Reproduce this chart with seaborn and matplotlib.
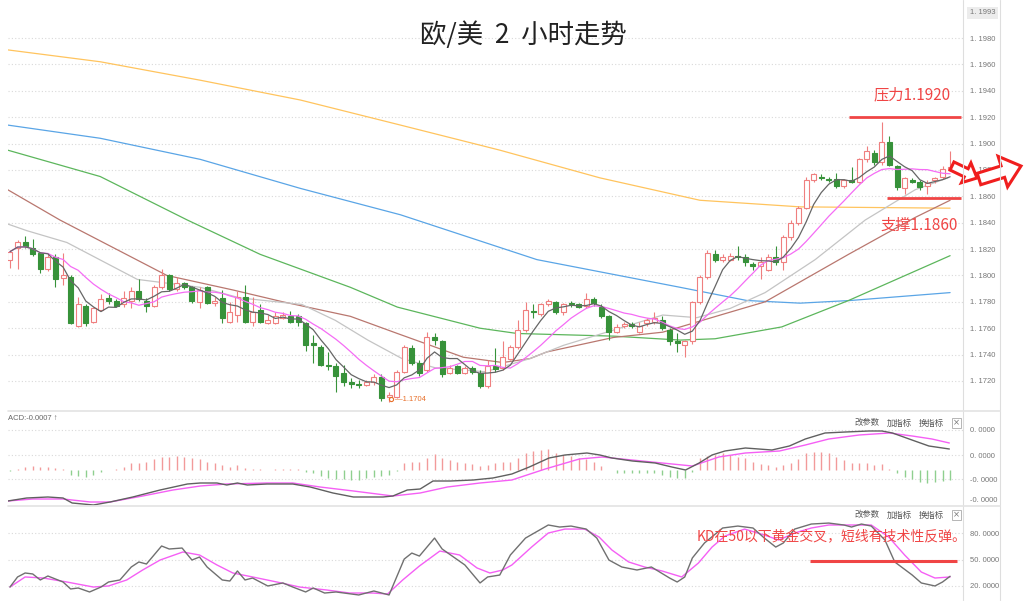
import numpy as np
import pandas as pd
import seaborn as sns
import matplotlib.pyplot as plt
from matplotlib.patches import FancyArrow
from matplotlib.lines import Line2D
from matplotlib.transforms import IdentityTransform

# EUR/USD 2h candles
opens = [1.1812, 1.1821, 1.1825, 1.1821, 1.1817, 1.1805, 1.1814, 1.1798, 1.1799, 1.1762,
         1.1777, 1.1765, 1.1774, 1.1783, 1.1781, 1.1778, 1.1781, 1.1788, 1.1781, 1.1777,
         1.1791, 1.1800, 1.1790, 1.1794, 1.1791, 1.1780, 1.1791, 1.1779, 1.1783, 1.1765,
         1.1770, 1.1784, 1.1765, 1.1774, 1.1764, 1.1764, 1.1768, 1.1769, 1.1769, 1.1764,
         1.1749, 1.1746, 1.1732, 1.1731, 1.1726, 1.1719, 1.1718, 1.1717, 1.1719, 1.1723,
         1.1708, 1.1708, 1.1727, 1.1745, 1.1734, 1.1728, 1.1753, 1.1750, 1.1726, 1.1731,
         1.1726, 1.1730, 1.1726, 1.1716, 1.1731, 1.1730, 1.1737, 1.1746, 1.1759, 1.1773,
         1.1771, 1.1778, 1.1780, 1.1772, 1.1779, 1.1778, 1.1777, 1.1782, 1.1776, 1.1769,
         1.1757, 1.1762, 1.1763, 1.1757, 1.1764, 1.1765, 1.1766, 1.1759, 1.1750, 1.1747,
         1.1750, 1.1780, 1.1799, 1.1816, 1.1812, 1.1812, 1.1815, 1.1814, 1.1809, 1.1807,
         1.1804, 1.1814, 1.1810, 1.1829, 1.1840, 1.1851, 1.1872, 1.1875, 1.1873, 1.1873,
         1.1868, 1.1872, 1.1871, 1.1888, 1.1893, 1.1886, 1.1901, 1.1883, 1.1866, 1.1872,
         1.1871, 1.1868, 1.1872, 1.1875, 1.1881]
closes = [1.1818, 1.1825, 1.1822, 1.1816, 1.1805, 1.1814, 1.1797, 1.1800, 1.1764, 1.1778,
          1.1764, 1.1775, 1.1782, 1.1781, 1.1777, 1.1783, 1.1788, 1.1782, 1.1777, 1.1791,
          1.1800, 1.1790, 1.1794, 1.1791, 1.1781, 1.1789, 1.1779, 1.1781, 1.1768, 1.1772,
          1.1784, 1.1765, 1.1772, 1.1765, 1.1766, 1.1769, 1.1770, 1.1765, 1.1765, 1.1747,
          1.1747, 1.1732, 1.1731, 1.1724, 1.1719, 1.1718, 1.1717, 1.1719, 1.1723, 1.1707,
          1.1709, 1.1727, 1.1746, 1.1734, 1.1726, 1.1753, 1.1751, 1.1725, 1.1730, 1.1726,
          1.1730, 1.1727, 1.1716, 1.1731, 1.1729, 1.1738, 1.1746, 1.1759, 1.1774, 1.1772,
          1.1778, 1.1781, 1.1772, 1.1778, 1.1778, 1.1776, 1.1782, 1.1779, 1.1769, 1.1757,
          1.1761, 1.1763, 1.1762, 1.1762, 1.1766, 1.1768, 1.1760, 1.1750, 1.1749, 1.1750,
          1.1780, 1.1799, 1.1817, 1.1812, 1.1814, 1.1815, 1.1814, 1.1810, 1.1807, 1.1810,
          1.1814, 1.1810, 1.1829, 1.1840, 1.1851, 1.1872, 1.1877, 1.1874, 1.1872, 1.1868,
          1.1872, 1.1871, 1.1888, 1.1894, 1.1886, 1.1901, 1.1884, 1.1867, 1.1874, 1.1871,
          1.1867, 1.1870, 1.1874, 1.1881, 1.1882]
highs = [1.1819, 1.1827, 1.1830, 1.1828, 1.1818, 1.1816, 1.1816, 1.1817, 1.1800, 1.1784,
         1.1778, 1.1776, 1.1786, 1.1787, 1.1782, 1.1788, 1.1791, 1.1797, 1.1783, 1.1793,
         1.1805, 1.1801, 1.1799, 1.1795, 1.1792, 1.1791, 1.1792, 1.1784, 1.1789, 1.1780,
         1.1788, 1.1793, 1.1784, 1.1778, 1.1770, 1.1772, 1.1772, 1.1773, 1.1771, 1.1765,
         1.1755, 1.1747, 1.1742, 1.1734, 1.1732, 1.1722, 1.1721, 1.1721, 1.1725, 1.1725,
         1.1712, 1.1728, 1.1747, 1.1747, 1.1736, 1.1757, 1.1756, 1.1751, 1.1732, 1.1732,
         1.1731, 1.1731, 1.1728, 1.1736, 1.1745, 1.1750, 1.1747, 1.1766, 1.1780, 1.1778,
         1.1779, 1.1782, 1.1781, 1.1779, 1.1781, 1.1779, 1.1787, 1.1784, 1.1778, 1.1770,
         1.1763, 1.1765, 1.1765, 1.1765, 1.1768, 1.1772, 1.1769, 1.1760, 1.1756, 1.1751,
         1.1781, 1.1800, 1.1819, 1.1819, 1.1816, 1.1817, 1.1822, 1.1816, 1.1810, 1.1814,
         1.1816, 1.1822, 1.1831, 1.1842, 1.1853, 1.1875, 1.1878, 1.1877, 1.1875, 1.1878,
         1.1873, 1.1882, 1.1889, 1.1898, 1.1895, 1.1916, 1.1906, 1.1884, 1.1875, 1.1874,
         1.1872, 1.1872, 1.1875, 1.1883, 1.1894]
lows = [1.1806, 1.1805, 1.1821, 1.1815, 1.1802, 1.1803, 1.1791, 1.1793, 1.1763, 1.1761,
        1.1762, 1.1764, 1.1773, 1.1778, 1.1776, 1.1776, 1.1775, 1.1781, 1.1772, 1.1776,
        1.1790, 1.1788, 1.1788, 1.1790, 1.1779, 1.1775, 1.1778, 1.1777, 1.1764, 1.1764,
        1.1765, 1.1764, 1.1762, 1.1764, 1.1763, 1.1763, 1.1767, 1.1764, 1.1762, 1.1743,
        1.1734, 1.1731, 1.1728, 1.1712, 1.1716, 1.1715, 1.1715, 1.1716, 1.1717, 1.1705,
        1.1704, 1.1707, 1.1726, 1.1732, 1.1724, 1.1727, 1.1747, 1.1723, 1.1725, 1.1725,
        1.1725, 1.1725, 1.1715, 1.1715, 1.1727, 1.1728, 1.1736, 1.1744, 1.1757, 1.1768,
        1.1769, 1.1777, 1.1771, 1.1770, 1.1776, 1.1775, 1.1775, 1.1777, 1.1768, 1.1751,
        1.1756, 1.1760, 1.1760, 1.1756, 1.1762, 1.1763, 1.1759, 1.1747, 1.1742, 1.1738,
        1.1748, 1.1778, 1.1797, 1.1810, 1.1810, 1.1811, 1.1812, 1.1807, 1.1804, 1.1797,
        1.1803, 1.1808, 1.1804, 1.1827, 1.1838, 1.1850, 1.1871, 1.1872, 1.1871, 1.1866,
        1.1866, 1.1870, 1.1870, 1.1886, 1.1884, 1.1884, 1.1883, 1.1865, 1.1862, 1.1870,
        1.1865, 1.1862, 1.1870, 1.1873, 1.1880]

# longer moving averages (candle index, price)
ma_gray_idx = [-0.3, 2.2, 7.5, 16.8, 25.1, 30.3, 38.5, 42.9, 47.2, 51.7, 56.1, 62.7,
               68.6, 73.0, 86.1, 90.6, 95.0, 99.6, 106.2, 112.8, 119.4, 123.7]
ma_gray = [1.1839, 1.1834, 1.1825, 1.1797, 1.1791, 1.1783, 1.1778, 1.1766, 1.1751, 1.1737,
           1.1730, 1.1727, 1.1737, 1.1747, 1.1770, 1.1768, 1.1775, 1.1787, 1.1812, 1.1842,
           1.1865, 1.1874]
ma_brown_idx = [-0.3, 6.6, 20.7, 29.4, 36.0, 44.9, 51.1, 59.8, 65.0, 68.6, 70.8, 79.6,
                86.1, 93.7, 99.6, 110.6, 119.4, 124.0]
ma_brown = [1.1865, 1.1842, 1.1800, 1.1789, 1.1780, 1.1769, 1.1756, 1.1738, 1.1734, 1.1737,
            1.1742, 1.1753, 1.1757, 1.1770, 1.1780, 1.1816, 1.1844, 1.1857]
ma_green_idx = [-0.3, 11.9, 23.4, 33.0, 44.9, 51.1, 62.0, 66.9, 79.6, 88.4, 93.0, 101.8,
                110.6, 124.0]
ma_green = [1.1895, 1.1875, 1.1842, 1.1816, 1.1791, 1.1776, 1.1760, 1.1756, 1.1754, 1.1751,
            1.1752, 1.1761, 1.1781, 1.1815]
ma_blue_idx = [-0.3, 11.9, 25.1, 38.3, 51.5, 69.5, 88.4, 97.2, 104.2, 110.8, 124.0]
ma_blue = [1.1914, 1.1904, 1.1888, 1.1866, 1.1846, 1.1812, 1.1791, 1.1781, 1.1779, 1.1781,
           1.1787]
ma_orange_idx = [-0.3, 11.9, 25.1, 38.3, 51.5, 64.6, 77.8, 91.0, 104.2, 124.0]
ma_orange = [1.1971, 1.1962, 1.1948, 1.1933, 1.1914, 1.1895, 1.1874, 1.1857, 1.1852, 1.1851]

# MACD (in pips)
dif_idx = [-0.3, 2.2, 5.0, 7.0, 8.2, 11.0, 13.2, 16.2, 19.8, 23.4, 25.1, 27.3, 28.6, 30.0,
           31.3, 33.9, 37.3, 39.6, 42.6, 45.3, 49.2, 50.5, 52.4, 54.1, 55.8, 58.1, 61.1,
           63.7, 66.2, 68.5, 71.1, 73.2, 76.1, 77.8, 79.4, 82.1, 85.1, 87.3, 89.1, 90.9,
           92.6, 94.3, 97.0, 100.5, 102.8, 104.9, 107.5, 110.2, 113.3, 115.0, 116.4, 118.6,
           121.2, 123.9]
dif_val = [-15.5, -14.0, -13.5, -14.0, -16.5, -17.5, -16.0, -13.5, -10.0, -7.0, -6.5, -6.5,
           -7.5, -6.5, -7.5, -7.0, -7.0, -8.5, -11.5, -13.5, -13.5, -13.0, -10.0, -9.5, -5.5,
           -5.5, -5.0, -4.0, -2.0, 1.5, 6.0, 7.5, 8.5, 7.5, 6.0, 4.5, 3.5, 1.5, 0.0, 3.5,
           7.5, 9.5, 11.0, 10.0, 12.0, 15.5, 18.5, 19.0, 19.5, 19.5, 18.5, 15.5, 12.0, 10.5]
dea_idx = [-0.3, 3.0, 7.0, 10.6, 13.2, 17.5, 21.5, 25.1, 28.6, 33.9, 37.3, 40.9, 45.3, 50.5,
           54.1, 57.7, 62.0, 66.2, 70.6, 75.1, 78.1, 80.7, 86.0, 90.0, 93.5, 97.0, 101.5,
           104.9, 108.0, 112.0, 116.0, 119.0, 121.6, 123.9]
dea_val = [-15.5, -14.5, -14.5, -16.0, -16.0, -13.0, -10.0, -8.0, -7.0, -6.5, -6.5, -8.5,
           -10.5, -13.0, -11.5, -8.5, -6.5, -5.0, 0.5, 5.5, 6.5, 5.5, 3.5, 2.0, 6.5, 8.5,
           9.5, 12.5, 15.5, 17.5, 18.5, 17.0, 15.5, 13.5]
macd_hist = [-0.3, 0.3, 1.7, 2.0, 1.7, 1.5, 0.8, 0.5, -2.5, -3.0,
             -3.3, -2.5, -1.0, 0.0, 0.7, 1.7, 3.3, 3.7, 4.2, 5.3,
             6.7, 6.7, 7.0, 6.7, 5.8, 5.3, 4.2, 3.3, 2.5, 1.3,
             2.3, 1.0, 0.7, 0.5, 0.0, 0.5, 0.5, 0.5, 0.3, -0.8,
             -1.7, -3.0, -3.8, -4.3, -4.7, -5.0, -5.0, -4.2, -3.3, -3.0,
             -2.5, -0.5, 3.3, 4.2, 4.2, 5.8, 8.0, 5.8, 5.0, 4.2,
             3.7, 3.0, 2.0, 2.5, 3.3, 4.2, 4.2, 5.8, 8.7, 9.7,
             10.0, 10.3, 8.7, 7.5, 7.0, 5.8, 5.3, 4.2, 2.0, 0.0,
             -1.3, -1.3, -1.5, -1.5, -1.5, -1.5, -2.5, -3.3, -4.2, -4.2,
             -1.0, 5.8, 7.0, 7.5, 8.3, 7.5, 6.7, 5.8, 4.2, 3.0,
             2.5, 1.7, 2.5, 3.7, 5.3, 8.7, 9.2, 9.2, 8.3, 6.7,
             5.0, 3.7, 3.7, 3.3, 2.5, 3.0, 0.5, -1.7, -3.3, -4.7,
             -5.8, -6.3, -5.8, -5.3, -5.0]

# KD
k_idx = [0, 1, 2, 3, 4, 5, 6, 7, 8, 9, 10.5, 12, 13, 14.5, 16, 17, 18, 20, 21, 22.7,
         24, 25, 26, 28, 29, 30, 31, 32, 34, 36, 37.3, 39, 40, 41.5, 43, 46, 48, 50, 52, 53,
         54, 56, 57, 60, 62, 63, 64.6, 66, 68, 71, 72.5, 74, 76, 77.4, 79, 80.7, 82.7, 84.6,
         87, 88, 89, 90, 91.6, 94, 96, 98, 99.5, 101, 102, 103.5, 105.7, 108, 110, 111,
         112.3, 113.6, 115.4, 116.7, 119, 120.2, 122, 123, 124]
k_val = [18.8, 30.2, 34.7, 33.6, 26.8, 31.3, 27.9, 24.5, 16.6, 17.7, 13.2, 18.8, 24.5, 26.8,
         41.5, 47.2, 44.9, 65.3, 61.9, 63.0, 49.4, 52.8, 41.5, 26.8, 25.6, 37.0, 26.8, 29.0,
         20.0, 23.4, 18.8, 13.2, 17.7, 12.0, 13.2, 9.8, 14.3, 9.8, 50.5, 57.3, 53.9, 74.3,
         61.9, 43.8, 23.4, 30.2, 32.4, 55.1, 74.3, 89.1, 86.8, 87.9, 84.5, 74.3, 49.4, 41.5,
         38.1, 41.5, 29.0, 24.5, 30.2, 51.7, 68.7, 85.7, 87.9, 85.7, 74.3, 64.1, 68.7, 84.5,
         90.2, 91.3, 89.1, 86.8, 90.2, 87.9, 72.1, 47.2, 32.4, 23.4, 20.0, 24.5, 31.0]
d_idx = [0, 2, 4.4, 7.5, 11, 13, 15.4, 17.5, 19.8, 22.8, 25, 27.3, 29.4, 32, 35.2, 38.2,
         41.8, 44.8, 47.9, 49.8, 51.8, 54, 56.7, 59.3, 61.6, 63.3, 65, 66.2, 68.8, 71, 73.2,
         75.8, 77.7, 79.4, 81.6, 83.7, 86, 88.6, 90.8, 92.6, 94.3, 96.9, 99.5, 101.4, 103.5,
         105.7, 108, 111, 113.6, 115.9, 118, 120.2, 122, 124]
d_val = [18.8, 30.2, 29.0, 24.5, 18.8, 20.0, 26.8, 38.1, 49.4, 58.5, 55.1, 43.8, 34.7, 30.2,
         24.5, 18.8, 15.4, 12.0, 12.0, 10.9, 26.8, 42.6, 59.6, 55.1, 40.4, 34.7, 38.1, 43.8,
         64.1, 80.0, 84.5, 84.5, 75.5, 60.7, 47.2, 41.5, 37.0, 30.2, 46.0, 64.1, 76.6, 84.5,
         77.7, 72.1, 80.0, 85.7, 89.1, 89.1, 89.1, 75.5, 55.1, 35.8, 29.0, 30.2]

price_ticks = [1.1720, 1.1740, 1.1760, 1.1780, 1.1800, 1.1820, 1.1840, 1.1860,
               1.1880, 1.1900, 1.1920, 1.1940, 1.1960, 1.1980]
resistance = 1.1920
support = 1.1859

UP = '#ef7f7f'
DOWN = '#37923a'
RED = '#f04545'

sns.set_style('white')
plt.rcParams['font.family'] = ['Noto Sans CJK SC', 'DejaVu Sans']

W, H = 1024, 610
fig = plt.figure(figsize=(W / 100, H / 100), dpi=100)


def box(x0, y0, x1, y1):
    return [x0 / W, 1 - y1 / H, (x1 - x0) / W, (y1 - y0) / H]


ax = fig.add_axes(box(8, 2, 963, 410))
ax_m = fig.add_axes(box(8, 412, 963, 506))
ax_k = fig.add_axes(box(8, 507, 963, 600))

xlim = (-0.26, 125.7)
for a in (ax, ax_m, ax_k):
    a.set_xlim(*xlim)
    a.set_xticks([])
    for s in a.spines.values():
        s.set_visible(False)
    a.yaxis.tick_right()
    a.tick_params(axis='y', length=0, pad=5, labelsize=5.5, labelcolor='#777777')

# ---- main price panel
df = pd.DataFrame({'open': opens, 'high': highs, 'low': lows, 'close': closes})
df['i'] = np.arange(len(df))
df['ma5'] = df['close'].rolling(5, min_periods=1).mean()
df['ma10'] = df['close'].rolling(10, min_periods=1).mean()
up = (df['close'] >= df['open']).values
body_lo = df[['open', 'close']].min(axis=1)
body_h = (df['close'] - df['open']).abs().clip(lower=0.00004)
cols = np.where(up, UP, DOWN)

for xs, ys, c in [(ma_orange_idx, ma_orange, '#ffc45e'), (ma_blue_idx, ma_blue, '#5aa5e6'),
                  (ma_green_idx, ma_green, '#5cb65c'), (ma_brown_idx, ma_brown, '#b9776f'),
                  (ma_gray_idx, ma_gray, '#c4c4c4')]:
    sns.lineplot(x=xs, y=ys, ax=ax, color=c, lw=0.9, zorder=2)

ax.vlines(df['i'], df['low'], df['high'], colors=cols, lw=0.8, zorder=3)
ax.bar(df['i'], body_h, bottom=body_lo, width=0.66, color=np.where(up, 'white', DOWN),
       edgecolor=cols, linewidth=0.8, zorder=4)

sns.lineplot(x=df['i'], y=df['ma10'], ax=ax, color='#f56cf5', lw=0.9, zorder=5)
sns.lineplot(x=df['i'], y=df['ma5'], ax=ax, color='#666666', lw=0.9, zorder=6)

ax.set_ylim(1.16980, 1.20073)
ax.set_yticks(price_ticks)
ax.set_yticklabels([f'{v:.4f}'.replace('.', '. ') for v in price_ticks], family='Liberation Sans')
ax.grid(axis='y', color='#d9d9d9', linestyle=(0, (1, 2)), lw=0.8)
ax.set_xlabel('')
ax.set_ylabel('')

# support / resistance
ax.plot([110.6, 125.5], [resistance, resistance], color=RED, lw=2, solid_capstyle='butt',
        zorder=7, clip_on=False)
ax.plot([115.7, 125.5], [support, support], color=RED, lw=2, solid_capstyle='butt',
        zorder=7, clip_on=False)
ax.text(119.0, 1.1937, '压力1.1920', color=RED, fontsize=11, ha='center', va='center', zorder=8)
ax.text(119.9, 1.1838, '支撑1.1860', color=RED, fontsize=11, ha='center', va='center', zorder=8)

# low marker
ax.plot([50.3], [1.1706], marker='o', ms=3, mfc='none', mec='#e8702a', mew=0.8, zorder=8)
ax.text(50.8, 1.1706, '—1.1704', color='#e8702a', fontsize=5.5, va='center',
        family='Liberation Sans', zorder=8)

# ---- MACD panel
hist = np.array(macd_hist)
ax_m.vlines(df['i'], 0, hist, colors=np.where(hist >= 0, '#f29a9a', '#8fcf8f'), lw=1.0)
sns.lineplot(x=dea_idx, y=dea_val, ax=ax_m, color='#f55ff5', lw=1.0)
sns.lineplot(x=dif_idx, y=dif_val, ax=ax_m, color='#606060', lw=1.0)
ax_m.set_ylim(-18, 29)
m_ticks = [20, 7.5, -4.5, -14.5]
ax_m.set_yticks(m_ticks)
ax_m.set_yticklabels(['0. 0000', '0. 0000', '-0. 0000', '-0. 0000'], family='Liberation Sans')
for v in m_ticks[:3]:
    ax_m.axhline(v, color='#d9d9d9', linestyle=(0, (1, 2)), lw=0.8, zorder=0)
ax_m.set_xlabel('')
ax_m.set_ylabel('')
ax_m.text(0.0, 0.93, 'ACD:-0.0007 ↑', transform=ax_m.transAxes, fontsize=5.5, color='#666666',
          va='center', family=['Liberation Sans', 'DejaVu Sans'])

# ---- KD panel
for yv in (80, 50, 20):
    ax_k.axhline(yv, color='#d9d9d9', linestyle=(0, (1, 2)), lw=0.8, zorder=0)
sns.lineplot(x=d_idx, y=d_val, ax=ax_k, color='#f55ff5', lw=1.0)
sns.lineplot(x=k_idx, y=k_val, ax=ax_k, color='#707070', lw=1.0)
ax_k.set_ylim(4.1, 109.5)
ax_k.set_yticks([80, 50, 20])
ax_k.set_yticklabels(['80. 0000', '50. 0000', '20. 0000'], family='Liberation Sans')
ax_k.set_xlabel('')
ax_k.set_ylabel('')
ax_k.plot([105.5, 124.9], [48, 48], color=RED, lw=2.2, solid_capstyle='butt', zorder=5)
ax_k.text(90.6, 75.5, 'KD在50以下黄金交叉，短线有技术性反弹。', color=RED, fontsize=10,
          ha='left', va='center', zorder=9, clip_on=False)

# toolbar texts
for yy in (423, 515):
    for xx, t in [(855, '改参数'), (887, '加指标'), (919, '换指标')]:
        fig.text(xx / W, 1 - yy / H, t, fontsize=6, color='#555555', va='center')
    fig.text(953 / W, 1 - yy / H, '×', fontsize=6, color='#777777', va='center',
             family='DejaVu Sans',
             bbox=dict(boxstyle='square,pad=0.1', fc='white', ec='#aaaaaa', lw=0.6))

# top price label
fig.text(970 / W, 1 - 13 / H, '1. 1993', fontsize=5.5, color='#777777', va='center',
         family='Liberation Sans', bbox=dict(boxstyle='square,pad=0.35', fc='#ececec', ec='none'))

# frame lines
for x in (963, 1000):
    fig.add_artist(Line2D([x / W, x / W], [1 - 600 / H, 1.0], color='#dedede', lw=0.8))
for y in (411, 506):
    fig.add_artist(Line2D([8 / W, 1000 / W], [1 - y / H, 1 - y / H], color='#e3e3e3', lw=1.2))

# title
fig.text(523 / W, 1 - 35 / H, '欧/美  2  小时走势', fontsize=19, color='#222222',
         ha='center', va='center')

# hollow arrows on the right
for (x0, y0, dx, dy, w, hw, hl) in [(952, 166, 25, 12, 9, 22, 12),
                                    (979, 179, 42, -13, 12, 32, 19)]:
    fig.add_artist(FancyArrow(x0, H - y0, dx, -dy, width=w, head_width=hw, head_length=hl,
                              length_includes_head=True, fc='white', ec='#f01e1e', lw=2.2,
                              transform=IdentityTransform()))

fig.savefig('out.png', dpi=100)
